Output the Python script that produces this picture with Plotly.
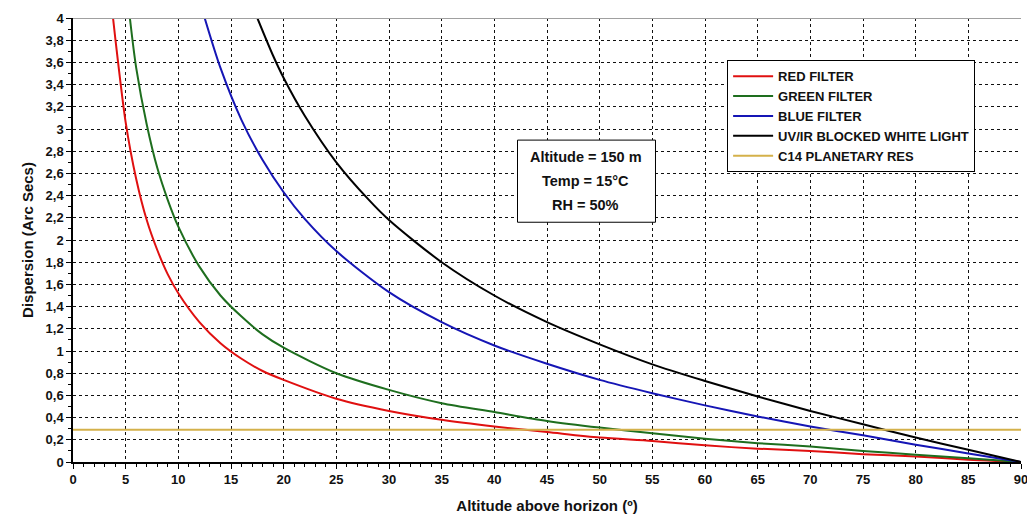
import plotly.graph_objects as go

# ---- data ----
red_alt = [3.8, 4, 5, 6, 7, 8, 9, 10, 12, 14, 16, 18, 20, 25, 30, 35, 40, 45, 50, 55, 60, 65, 70, 75, 80, 85, 90]
red_disp = [4.0, 3.83, 3.06, 2.55, 2.18, 1.91, 1.69, 1.52, 1.26, 1.07, 0.93, 0.82, 0.74, 0.57, 0.46, 0.38, 0.32, 0.27, 0.22, 0.19, 0.15, 0.12, 0.10, 0.07, 0.05, 0.02, 0.0]

green_alt = [5.4, 6, 7, 8, 9, 10, 12, 14, 16, 18, 20, 25, 30, 35, 40, 45, 50, 55, 60, 65, 70, 75, 80, 85, 90]
green_disp = [4.0, 3.55, 3.04, 2.65, 2.36, 2.12, 1.76, 1.5, 1.31, 1.15, 1.03, 0.8, 0.65, 0.53, 0.45, 0.37, 0.31, 0.26, 0.21, 0.17, 0.14, 0.10, 0.066, 0.033, 0.0]

blue_alt = [12.5, 14, 16, 18, 20, 22, 25, 30, 35, 40, 45, 50, 55, 60, 65, 70, 75, 80, 85, 90]
blue_disp = [4.0, 3.55, 3.08, 2.72, 2.43, 2.19, 1.9, 1.53, 1.26, 1.05, 0.885, 0.74, 0.62, 0.51, 0.41, 0.32, 0.24, 0.156, 0.077, 0.0]

white_alt = [17.5, 19, 20, 22, 25, 28, 30, 35, 40, 45, 50, 55, 60, 65, 70, 75, 80, 85, 90]
white_disp = [4.0, 3.66, 3.46, 3.12, 2.7, 2.37, 2.18, 1.8, 1.5, 1.26, 1.06, 0.88, 0.73, 0.59, 0.46, 0.34, 0.22, 0.11, 0.0]

res_alt = [0, 90]
res_disp = [0.29, 0.29]

series_names = ["RED FILTER", "GREEN FILTER", "BLUE FILTER", "UV/IR BLOCKED WHITE LIGHT", "C14 PLANETARY RES"]
series_colors = ["#e01010", "#1e6e1e", "#1515b5", "#000000", "#d4b14a"]

note_lines = ["Altitude = 150 m", "Temp = 15°C", "RH = 50%"]

x_ticks = list(range(0, 91, 5))
x_ticktext = [str(v) for v in x_ticks]
y_tickvals = [0, 0.2, 0.4, 0.6, 0.8, 1, 1.2, 1.4, 1.6, 1.8, 2, 2.2, 2.4, 2.6, 2.8, 3, 3.2, 3.4, 3.6, 3.8, 4]
y_ticktext = ["0", "0,2", "0,4", "0,6", "0,8", "1", "1,2", "1,4", "1,6", "1,8", "2", "2,2", "2,4", "2,6", "2,8", "3", "3,2", "3,4", "3,6", "3,8", "4"]

FONT = "Liberation Sans, Arial, sans-serif"

fig = go.Figure()
xs = [red_alt, green_alt, blue_alt, white_alt, res_alt]
ys = [red_disp, green_disp, blue_disp, white_disp, res_disp]
for name, col, x, y in zip(series_names, series_colors, xs, ys):
    fig.add_trace(go.Scatter(
        x=x, y=y, mode="lines", name="<b>" + name + "</b>",
        line=dict(color=col, width=2, shape="spline", smoothing=0.8),
    ))

fig.add_shape(type="line", xref="paper", yref="y", x0=0, x1=1, y0=4, y1=4,
              line=dict(color="#a0a0a0", width=2))

# note box
fig.add_shape(type="rect", xref="x", yref="y", x0=42.2, x1=55.3, y0=2.16, y1=2.90,
              line=dict(color="black", width=1), fillcolor="white", layer="above")
for i, t in enumerate(note_lines):
    fig.add_annotation(
        x=48.7, y=2.745 - 0.215 * i, xref="x", yref="y",
        text="<b>%s</b>" % t, showarrow=False, align="center",
        font=dict(family=FONT, size=14.5, color="#111"),
    )

fig.update_layout(
    width=1027, height=518,
    margin=dict(l=73, r=6, t=18, b=56),
    paper_bgcolor="white", plot_bgcolor="white",
    font=dict(family=FONT, color="#111"),
    showlegend=True,
    legend=dict(
        x=0.69, y=0.905, xanchor="left", yanchor="top",
        bgcolor="white", bordercolor="black", borderwidth=1,
        font=dict(family=FONT, size=13, color="#111"),
        itemwidth=40, tracegroupgap=0,
    ),
    xaxis=dict(
        range=[0, 90], tickvals=x_ticks, ticktext=["<b>%s</b>" % t for t in x_ticktext],
        automargin=False, ticklabeloverflow="allow",
        showgrid=True, gridcolor="#111", griddash="dot", gridwidth=1.4,
        showline=True, linecolor="black", linewidth=1.5,
        ticks="outside", ticklen=5, tickcolor="black",
        minor=dict(dtick=1, ticks="outside", ticklen=3, tickcolor="black", showgrid=False),
        tickfont=dict(family=FONT, size=13, color="#111"),
        title=dict(text="<b>Altitude above horizon (º)</b>", font=dict(family=FONT, size=15, color="#111"), standoff=14),
        zeroline=False,
    ),
    yaxis=dict(
        range=[0, 4], tickvals=y_tickvals, ticktext=["<b>%s</b>" % t for t in y_ticktext],
        automargin=False, ticklabeloverflow="allow",
        showgrid=True, gridcolor="#111", griddash="dot", gridwidth=1.4,
        showline=True, linecolor="black", linewidth=1.5,
        ticks="outside", ticklen=5, tickcolor="black",
        minor=dict(dtick=0.1, ticks="outside", ticklen=3, tickcolor="black", showgrid=False),
        tickfont=dict(family=FONT, size=13, color="#111"),
        title=dict(text="<b>Dispersion (Arc Secs)</b>", font=dict(family=FONT, size=15, color="#111"), standoff=8),
        zeroline=False,
    ),
)

fig.write_html("out.html", config={"displayModeBar": False},
               post_script="document.body.style.margin='0';document.body.style.overflow='hidden';")
